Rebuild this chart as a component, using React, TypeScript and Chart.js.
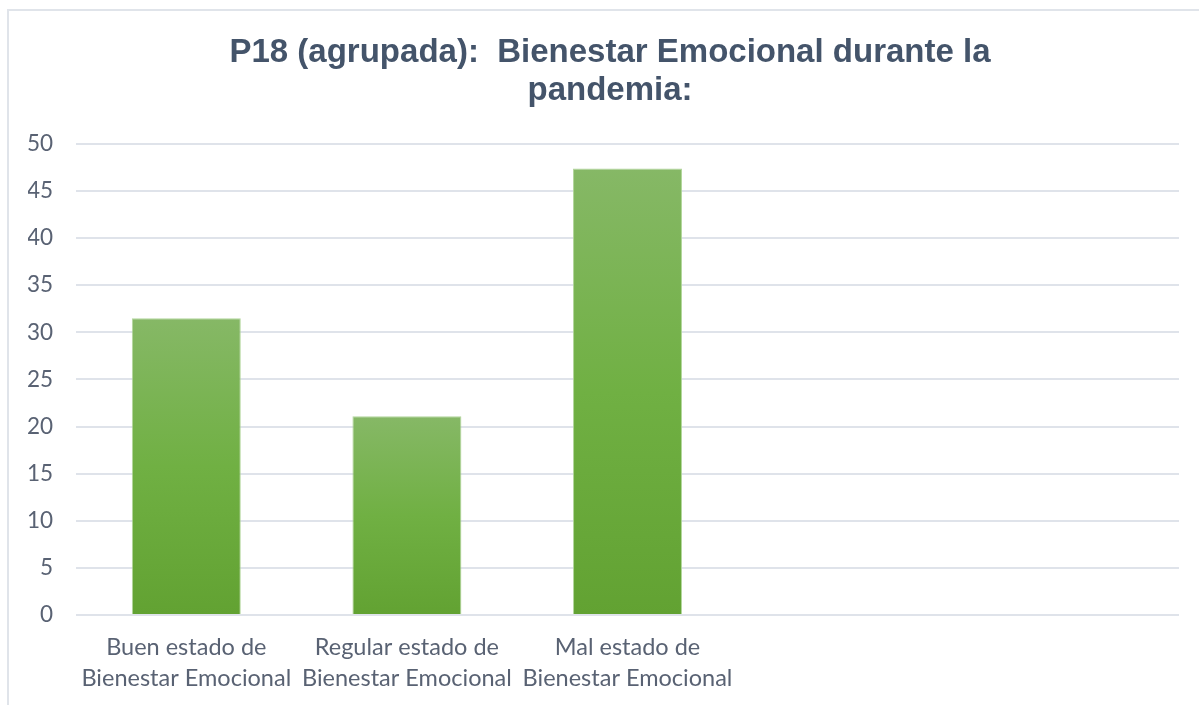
import React, { useEffect, useRef } from "react";
import { Chart, registerables } from "chart.js";

Chart.register(...registerables);

const categories: string[][] = [
  ["Buen estado de", "Bienestar Emocional"],
  ["Regular estado de", "Bienestar Emocional"],
  ["Mal estado de", "Bienestar Emocional"],
  [""],
  [""],
];
const values: (number | null)[] = [31.5, 21.1, 47.4, null, null];
const titleLines: string[] = ["P18 (agrupada):  Bienestar Emocional durante la", "pandemia:"];
const yTicks = { min: 0, max: 50, step: 5 };

const W = 1204;
const H = 705;

const centerTitle = {
  id: "centerTitle",
  afterLayout(chart: any) {
    const t = chart.titleBlock;
    if (t) {
      t.left = 0;
      t.right = chart.width;
      t.width = chart.width;
    }
  },
};

export default function App() {
  const ref = useRef<HTMLCanvasElement | null>(null);

  useEffect(() => {
    if (!ref.current) return;
    const chart = new Chart(ref.current, {
      type: "bar",
      data: {
        labels: categories,
        datasets: [
          {
            data: values,
            backgroundColor: (ctx: any) => {
              const c = ctx.chart;
              const ys = c.scales?.y;
              const v = ctx.raw;
              if (!ys || v == null || !c.chartArea) return "#6fae45";
              const top = ys.getPixelForValue(v);
              const bottom = ys.getPixelForValue(0);
              if (!Number.isFinite(top) || !Number.isFinite(bottom) || top === bottom) return "#6fae45";
              const g = c.ctx.createLinearGradient(0, top, 0, bottom);
              g.addColorStop(0, "#86b866");
              g.addColorStop(0.5, "#70b043");
              g.addColorStop(1, "#62a232");
              return g;
            },
            borderColor: "rgba(170,210,145,0.9)",
            borderWidth: 1,
            borderSkipped: "bottom",
            categoryPercentage: 1,
            barPercentage: 0.494,
          },
        ],
      },
      options: {
        responsive: false,
        animation: false,
        devicePixelRatio: 1,
        layout: { padding: { left: 20, right: 33, top: 0, bottom: 0 } },
        plugins: {
          legend: { display: false },
          tooltip: { enabled: false },
          title: {
            display: true,
            text: titleLines,
            color: "#44546a",
            font: { family: "'Liberation Sans', Arial, sans-serif", size: 33, weight: "bold", lineHeight: 1.15 },
            padding: { top: 34, bottom: 34 },
          },
        },
        scales: {
          x: {
            grid: { display: false, drawTicks: false },
            border: { display: false },
            ticks: {
              color: "#596273",
              font: { family: "Lato, 'Open Sans', sans-serif", size: 23.5, lineHeight: 1.32 },
              padding: 17,
              maxRotation: 0,
              autoSkip: false,
            },
            afterFit: (s: any) => {
              s.height = 90;
            },
          },
          y: {
            min: yTicks.min,
            max: yTicks.max,
            grid: { color: "#dfe3ea", lineWidth: 2, drawTicks: false },
            border: { display: false },
            ticks: {
              stepSize: yTicks.step,
              color: "#596273",
              font: { family: "Lato, 'Open Sans', sans-serif", size: 22.5 },
              padding: 23,
            },
            afterFit: (s: any) => {
              s.width = 48;
            },
          },
        },
      },
      plugins: [centerTitle],
    } as any);
    return () => chart.destroy();
  }, []);

  return (
    <div style={{ position: "fixed", inset: 0, overflow: "hidden", background: "#fff" }}>
      <div
        style={{
          position: "absolute",
          left: 7,
          top: 9,
          width: 1400,
          height: 900,
          borderLeft: "2px solid #e0e4ea",
          borderTop: "2px solid #e0e4ea",
        }}
      />
      <canvas
        ref={ref}
        width={W}
        height={H}
        style={{ position: "absolute", left: 8, top: 0, width: W, height: H }}
      />
    </div>
  );
}
